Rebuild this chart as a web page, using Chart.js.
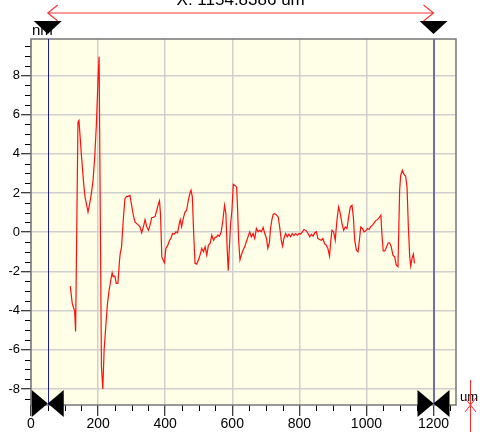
<!DOCTYPE html>
<html>
<head>
<meta charset="utf-8">
<script src="https://cdn.jsdelivr.net/npm/chart.js@4.4.1/dist/chart.umd.min.js"></script>
<style>
  html, body { margin: 0; padding: 0; background: #fff; }
  #wrap { width: 487px; height: 432px; position: relative; }
</style>
</head>
<body>
<div id="wrap"><canvas id="profile"></canvas></div>
<script>
// profile data (x in um, height in nm)
var xValues = [117, 123, 127, 130, 133, 140, 143, 150, 157, 161, 165, 170, 175, 180, 185, 190, 195, 200, 203,
  210, 214, 218, 223, 228, 233, 238, 242, 245, 250, 254, 259, 264, 266, 270, 275, 280, 285, 290, 295, 300,
  305, 310, 315, 320, 325, 330, 335, 340, 345, 350, 355, 360, 365, 370, 375, 380, 383, 386, 390, 395, 398,
  402, 408, 413, 417, 422, 427, 432, 437, 442, 445, 449, 454, 459, 464, 469, 474, 477, 481, 485, 489, 494,
  499, 504, 509, 514, 519, 524, 529, 534, 539, 544, 549, 553, 557, 562, 567, 572, 577, 581, 585, 588, 591,
  595, 599, 603, 608, 613, 616, 619, 623, 627, 632, 637, 642, 647, 652, 657, 662, 667, 672, 677, 682, 687,
  692, 697, 702, 706, 711, 714, 718, 722, 727, 732, 737, 742, 746, 750, 754, 759, 764, 769, 774, 779, 784,
  789, 794, 799, 804, 809, 814, 821, 826, 831, 836, 841, 846, 851, 855, 860, 866, 870, 875, 880, 885, 890,
  893, 897, 902, 907, 912, 917, 922, 927, 932, 937, 942, 947, 952, 957, 961, 965, 970, 975, 979, 983, 988,
  993, 998, 1003, 1008, 1012, 1018, 1023, 1027, 1033, 1038, 1043, 1046, 1050, 1055, 1060, 1065, 1069, 1074,
  1079, 1084, 1089, 1094, 1099, 1102, 1107, 1112, 1117, 1121, 1125, 1129, 1132, 1136, 1140, 1143];
var yValues = [-2.75, -3.63, -3.87, -4.0, -5.07, 5.61, 5.7, 4.0, 2.48, 1.8, 1.46, 1.03, 1.46, 1.97, 2.65, 3.83, 5.53, 7.9, 8.96,
  -6.85, -8.0, -6.0, -4.8, -3.63, -2.95, -2.44, -2.07, -2.27, -2.24, -2.61, -2.61, -1.42, -1.08, -0.75, 0.61, 1.71, 1.83, 1.83, 1.88, 1.37,
  0.87, 0.52, 0.44, 0.36, 0.27, -0.03, 0.27, 0.64, 0.27, 0.1, 0.36, 0.75, 0.75, 0.81, 1.12, 1.46, 1.6, 0.95, -1.26, -1.46, -1.56,
  -0.83, -0.66, -0.41, -0.32, -0.07, -0.1, 0.02, -0.03, 0.44, 0.64, 0.27, 0.7, 1.03, 1.12, 1.63, 2.0, 2.14, 1.8, -0.07, -1.59, -1.63,
  -1.42, -1.17, -0.83, -1.0, -0.75, -1.17, -0.66, -0.58, -0.15, -0.41, -0.27, -0.24, -0.15, -0.2, 0.02, 0.61, 1.37, 0.95, -0.92, -1.97, -0.92,
  0.44, 1.12, 2.44, 2.39, 2.31, 1.12, -0.41, -1.42, -1.17, -0.92, -0.75, -0.49, -0.24, 0.02, -0.24, -0.07, -0.32, 0.19, 0.02, 0.1, 0.02,
  0.24, -0.07, -0.32, -0.83, -0.49, 0.19, 0.61, 0.92, 0.95, 0.87, 0.78, 0.19, -0.41, -0.71, -0.32, -0.07, -0.24, -0.1, -0.24, -0.07, -0.17,
  -0.07, -0.15, -0.07, -0.1, 0.02, 0.14, 0.07, -0.07, -0.24, -0.1, -0.2, -0.03, 0.02, -0.32, -0.37, -0.41, -0.32, -0.58, -0.66, -0.83, -1.22,
  -0.58, 0.1, 0.02, -0.41, 0.61, 1.29, 0.95, 0.44, 0.1, 0.27, 0.19, 0.78, 1.29, 1.37, 0.78, -0.41, -0.92, -1.0, -0.41, 0.27, 0.19,
  0.02, 0.07, 0.19, 0.14, 0.27, 0.36, 0.47, 0.58, 0.64, 0.75, 0.87, -0.07, -0.95, -0.95, -0.75, -0.54, -0.54, -0.75,
  -1.17, -1.26, -1.68, -1.76, 2.14, 2.9, 3.16, 2.95, 2.85, 2.31, 0.27, -1.26, -1.73, -1.34, -1.12, -1.59];

var xTicks = [0, 200, 400, 600, 800, 1000, 1200];
var yTicks = [-8, -6, -4, -2, 0, 2, 4, 6, 8];
var cursors = [50, 1200];
var readout = 'X: 1154.8386 um';
var yUnit = 'nm';
var xUnit = 'um';

var FONT = '"Liberation Sans", Arial, Helvetica, sans-serif';

function tri(ctx, pts) {
  ctx.beginPath();
  ctx.moveTo(pts[0][0], pts[0][1]);
  for (var i = 1; i < pts.length; i++) ctx.lineTo(pts[i][0], pts[i][1]);
  ctx.closePath();
  ctx.fill();
}

var decor = {
  id: 'decor',
  beforeDraw: function (chart) {
    var c = chart.ctx, a = chart.chartArea;
    c.save();
    c.fillStyle = '#ffffff';
    c.fillRect(0, 0, chart.width, chart.height);
    c.fillStyle = '#fffee6';
    c.fillRect(a.left, a.top, a.right - a.left, a.bottom - a.top);
    c.restore();
  },
  afterDraw: function (chart) {
    var c = chart.ctx, a = chart.chartArea;
    var xs = chart.scales.x, ys = chart.scales.y;
    c.save();

    // minor ticks
    c.strokeStyle = '#000';
    c.lineWidth = 1;
    c.beginPath();
    for (var v = 50; v < xs.max; v += 50) {
      if (v % 200 === 0) continue;
      var px = Math.round(xs.getPixelForValue(v)) + 0.5;
      c.moveTo(px, a.bottom);
      c.lineTo(px, a.bottom + 6);
    }
    for (var w = -8.5; w < ys.max; w += 0.5) {
      if (Math.abs(w % 2) < 0.01) continue;
      var py = Math.round(ys.getPixelForValue(w)) + 0.5;
      c.moveTo(a.left - 6, py);
      c.lineTo(a.left, py);
    }
    c.stroke();

    // frame
    c.strokeStyle = '#777';
    c.lineWidth = 1.5;
    c.strokeRect(a.left, a.top, a.right - a.left, a.bottom - a.top);

    // cursor lines
    var c1 = xs.getPixelForValue(cursors[0]);
    var c2 = xs.getPixelForValue(cursors[1]);
    c.strokeStyle = '#1c1ca0';
    c.lineWidth = 1;
    c.beginPath();
    c.moveTo(Math.round(c1) + 0.5, a.top);
    c.lineTo(Math.round(c1) + 0.5, a.bottom);
    c.stroke();
    c.strokeStyle = '#6e6eb4';
    c.lineWidth = 2;
    c.beginPath();
    c.moveTo(Math.round(c2), a.top);
    c.lineTo(Math.round(c2), a.bottom);
    c.stroke();

    // unit labels
    c.fillStyle = '#000';
    c.font = '15px ' + FONT;
    c.textAlign = 'left';
    c.textBaseline = 'alphabetic';
    c.fillText(yUnit, a.left + 1, a.top - 4);
    c.font = '13px ' + FONT;
    c.fillText(xUnit, a.right + 4, a.bottom - 4);

    // top markers
    c.fillStyle = '#000';
    [c1, c2].forEach(function (cx) {
      tri(c, [[cx - 14, a.top - 18], [cx + 14, a.top - 18], [cx, a.top - 5]]);
    });
    // bottom bow ties
    var my = a.bottom - 1.5;
    [c1, c2].forEach(function (cx) {
      tri(c, [[cx - 16, my - 13.5], [cx - 16, my + 13.5], [cx, my]]);
      tri(c, [[cx + 16, my - 13.5], [cx + 16, my + 13.5], [cx, my]]);
    });

    // span arrow
    var ay = 13;
    c.strokeStyle = '#f43a3a';
    c.lineWidth = 1.2;
    c.beginPath();
    c.moveTo(c1, ay); c.lineTo(c2, ay);
    c.moveTo(c1 + 10, ay - 8); c.lineTo(c1, ay); c.lineTo(c1 + 10, ay + 8);
    c.moveTo(c2 - 10, ay - 8); c.lineTo(c2, ay); c.lineTo(c2 - 10, ay + 8);
    c.stroke();

    // readout (cut off at the top edge)
    c.fillStyle = '#000';
    c.font = '17px ' + FONT;
    c.textAlign = 'center';
    c.fillText(readout, (c1 + c2) / 2, 5);

    // red cross marker at right
    c.strokeStyle = '#ff2a2a';
    c.lineWidth = 1;
    c.beginPath();
    c.moveTo(470.5, a.bottom - 25); c.lineTo(470.5, chart.height);
    c.moveTo(465, a.bottom - 7); c.lineTo(476, a.bottom + 7);
    c.moveTo(476, a.bottom - 7); c.lineTo(465, a.bottom + 7);
    c.stroke();

    c.restore();
  }
};

var ctx = document.getElementById('profile').getContext('2d');
var profileChart = new Chart(ctx, {
  type: 'line',
  data: {
    datasets: [{
      label: 'profile',
      data: xValues.map(function (x, i) { return { x: x, y: yValues[i] }; }),
      borderColor: '#ff1010',
      borderWidth: 1.2,
      pointRadius: 0,
      tension: 0,
      fill: false
    }]
  },
  options: {
    responsive: true,
    maintainAspectRatio: false,
    animation: false,
    layout: { padding: { top: 39, right: 31, left: 0, bottom: 0 } },
    plugins: {
      legend: { display: false },
      tooltip: { enabled: false }
    },
    scales: {
      x: {
        type: 'linear',
        min: 0,
        max: 1267,
        afterBuildTicks: function (scale) {
          scale.ticks = xTicks.map(function (v) { return { value: v }; });
        },
        afterFit: function (scale) { scale.height = 27; },
        grid: {
          color: '#cfcfcf',
          lineWidth: 1.5,
          tickColor: '#000',
          tickWidth: 1,
          tickLength: 11
        },
        border: { display: false },
        ticks: {
          color: '#000',
          padding: 0,
          maxRotation: 0,
          font: { family: FONT, size: 14 },
          callback: function (v) { return String(v); }
        }
      },
      y: {
        min: -8.82,
        max: 9.86,
        afterBuildTicks: function (scale) {
          scale.ticks = yTicks.map(function (v) { return { value: v }; });
        },
        afterFit: function (scale) { scale.width = 31; },
        grid: {
          color: '#cfcfcf',
          lineWidth: 1.5,
          tickColor: '#000',
          tickWidth: 1,
          tickLength: 10
        },
        border: { display: false },
        ticks: {
          color: '#000',
          padding: 1,
          font: { family: FONT, size: 13 },
          callback: function (v) { return String(v); }
        }
      }
    }
  },
  plugins: [decor]
});
</script>
</body>
</html>
